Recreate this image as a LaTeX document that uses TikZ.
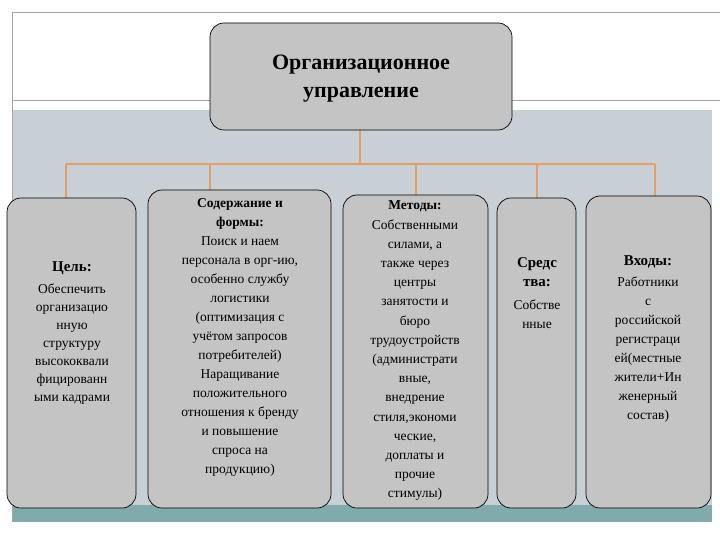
\documentclass[tikz,border=0pt]{standalone}
\usepackage{fontspec}
\setmainfont{Liberation Serif}
\definecolor{panel}{RGB}{200,208,214}
\definecolor{strip}{RGB}{128,170,172}
\definecolor{boxg}{RGB}{196,196,196}
\definecolor{orn}{RGB}{228,160,100}
\begin{document}
\begin{tikzpicture}[x=1pt,y=-1pt,
  box/.style={draw=black,fill=boxg,rounded corners=14pt,line width=0.7pt},
  conn/.style={draw=orn,line width=2pt},
  txt/.style={align=center,inner sep=0pt}]
\useasboundingbox (0,0) rectangle (720,540);
\fill[white] (0,0) rectangle (720,540);
\draw[gray!70,line width=0.6pt] (12,522) -- (12,12) -- (720,12);
\draw[gray!70,line width=0.6pt] (12,100) -- (720,100);
\fill[panel] (13,110) rectangle (712,505);
\fill[strip] (13,505) rectangle (712,522);
% connectors
\coordinate (j) at (360,164);
\coordinate (h1) at (66,164); \coordinate (h2) at (210,164); \coordinate (h3) at (416,164);
\coordinate (h4) at (537,164); \coordinate (h5) at (655,164);
\draw[conn] (360,130) -- (j);
\draw[conn] (h1) -- (h5);
\draw[conn] (h1) -- (66,200); \draw[conn] (h2) -- (210,192); \draw[conn] (h3) -- (416,196);
\draw[conn] (h4) -- (537,200); \draw[conn] (h5) -- (655,198);
% top
\draw[box] (210,23) rectangle (512,130);
\node[txt,font=\fontsize{22}{28}\selectfont\bfseries] (top) at (361,79) {Организационное\\управление};
% boxes
\draw[box] (7,198) rectangle (136,508);
\draw[box] (148,190) rectangle (331,508);
\draw[box] (343,195) rectangle (488,508);
\draw[box] (497,198) rectangle (576,508);
\draw[box] (586,196) rectangle (711,508);
\node[txt,font=\fontsize{13.5}{18}\selectfont] (t1) at (72,333) {{\bfseries\fontsize{15}{18}\selectfont Цель:}\\[4pt]Обеспечить\\организацио\\нную\\структуру\\высококвали\\фицированн\\ыми кадрами};
\node[txt,font=\fontsize{13.5}{19}\selectfont] (t2) at (240,337) {{\bfseries Содержание и}\\{\bfseries формы:}\\Поиск и наем\\персонала в орг-ию,\\особенно службу\\логистики\\(оптимизация с\\учётом запросов\\потребителей)\\Наращивание\\положительного\\отношения к бренду\\и повышение\\спроса на\\продукцию)};
\node[txt,font=\fontsize{13.5}{19.2}\selectfont] (t3) at (415,351) {{\bfseries Методы:}\\Собственными\\силами, а\\также через\\центры\\занятости и\\бюро\\трудоустройств\\(администрати\\вные,\\внедрение\\стиля,экономи\\ческие,\\доплаты и\\прочие\\стимулы)};
\node[txt,font=\fontsize{13.5}{19}\selectfont] (t4) at (537,293) {{\bfseries\fontsize{15}{19}\selectfont Средс}\\{\bfseries\fontsize{15}{19}\selectfont тва:}\\[4pt]Собстве\\нные};
\node[txt,font=\fontsize{13.5}{19}\selectfont] (t5) at (648,339) {{\bfseries\fontsize{15}{18}\selectfont Входы:}\\[2pt]Работники\\с\\российской\\регистраци\\ей(местные\\жители+Ин\\женерный\\состав)};
\end{tikzpicture}
\end{document}
